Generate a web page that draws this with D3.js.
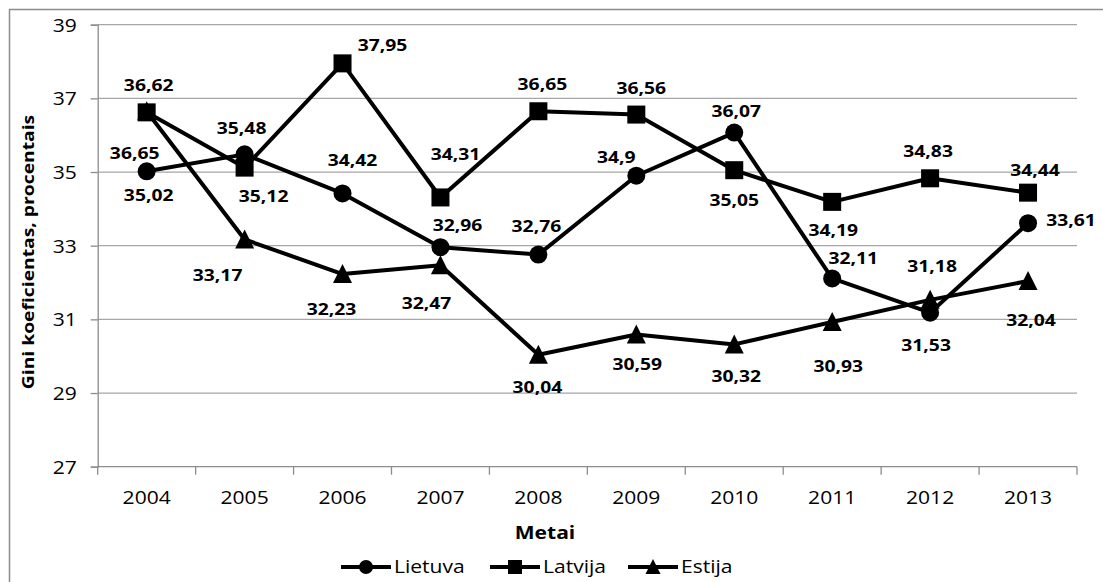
<!DOCTYPE html>
<html><head><meta charset="utf-8">
<script src="https://cdn.jsdelivr.net/npm/d3@7"></script>
<style>
html,body{margin:0;padding:0;background:#fff;}
svg{display:block;}
text{font-family:"Open Sans","Noto Sans",sans-serif;fill:#000;}
</style></head>
<body>
<svg id="chart" width="1103" height="582"></svg>
<script>
// ---- data ----
const years = ["2004","2005","2006","2007","2008","2009","2010","2011","2012","2013"];
const lietuva = [35.02,35.48,34.42,32.96,32.76,34.9,36.07,32.11,31.18,33.61];
const latvija = [36.62,35.12,37.95,34.31,36.65,36.56,35.05,34.19,34.83,34.44];
const estija  = [36.65,33.17,32.23,32.47,30.04,30.59,30.32,30.93,31.53,32.04];
const yTicks = [27,29,31,33,35,37,39];
const seriesNames = ["Lietuva","Latvija","Estija"];

// ---- label placement (layout) ----
const lietuvaLabelDx = [2,-3,10,17,-2,-20,2,21,2,43];
const lietuvaLabelDy = [24,-26,-33,-22,-28,-19,-22,-20,-47,-3];
const latvijaLabelDx = [2,19,40,15,4,5,0,1,-2,7];
const latvijaLabelDy = [-27,28,-18,-43,-27,-27,30,28,-27,-23];
const estijaLabelDx = [-12,-27,-11,-14,-1,1,2,6,-4,3];
const estijaLabelDy = [42,36,35,38,32,30,32,44,45,39];

const SX = 1.17; // horizontal text stretch
const svg = d3.select("#chart");

// outer border
svg.append("rect").attr("x",9.5).attr("y",9.5).attr("width",1100).attr("height",580)
  .attr("fill","none").attr("stroke","#8c8c8c").attr("stroke-width",1.5);

const L = 97.7, R = 1077, T = 24.7, B = 466.7;
const x = d3.scaleBand().domain(years).range([L,R]).paddingInner(0).paddingOuter(0);
const y = d3.scaleLinear().domain([27,39]).range([B,T]);
const cx = d => x(d) + x.bandwidth()/2;

// gridlines
svg.append("g").selectAll("line").data(yTicks.filter(t=>t>27)).join("line")
  .attr("x1",L).attr("x2",R).attr("y1",d=>y(d)).attr("y2",d=>y(d))
  .attr("stroke","#a6a6a6").attr("stroke-width",1.3);

// y axis
const gy = svg.append("g").attr("transform",`translate(${L},0)`)
  .call(d3.axisLeft(y).tickValues(yTicks).tickSize(7).tickPadding(14).tickFormat(d3.format("d")));
gy.select(".domain").attr("stroke","#8c8c8c").attr("stroke-width",1.3);
gy.selectAll(".tick line").attr("stroke","#8c8c8c").attr("stroke-width",1.3);
gy.selectAll(".tick text").each(function(){
  const t=d3.select(this); const xx=+t.attr("x");
  t.attr("x",null).attr("dy",null)
   .attr("transform",`translate(${xx},0) scale(${SX},1)`)
   .attr("dy","0.36em").attr("text-anchor","end")
   .style("font-size","18px").style("font-family","'Open Sans'").attr("fill","#000");
});

// x axis
svg.append("line").attr("x1",L).attr("x2",R).attr("y1",B).attr("y2",B)
  .attr("stroke","#8c8c8c").attr("stroke-width",1.3);
const boundaries = years.map(d=>x(d)).concat([R]);
svg.append("g").selectAll("line").data(boundaries).join("line")
  .attr("x1",d=>d).attr("x2",d=>d).attr("y1",B).attr("y2",B+8)
  .attr("stroke","#8c8c8c").attr("stroke-width",1.3);
svg.append("g").selectAll("text").data(years).join("text")
  .attr("transform",d=>`translate(${cx(d)},498) scale(${SX},1)`)
  .attr("dy","0.36em").attr("text-anchor","middle").style("font-size","18px").text(d=>d);

// axis titles
svg.append("text").attr("transform",`translate(545,533) scale(${SX},1)`)
  .attr("dy","0.36em").attr("text-anchor","middle").style("font-size","18px").style("font-weight","bold").text("Metai");
svg.append("text").attr("transform",`translate(28,252) rotate(-90) scale(${SX},1)`)
  .attr("dy","0.36em").attr("text-anchor","middle").style("font-size","16.5px").style("font-weight","bold")
  .text("Gini koeficientas, procentais");

// marker shapes
function marker(g, type, px, py, s){
  if(type==="circle"){
    g.append("circle").attr("cx",px).attr("cy",py).attr("r",s/2).attr("fill","#000");
  } else if(type==="square"){
    g.append("rect").attr("x",px-s/2).attr("y",py-s/2).attr("width",s).attr("height",s).attr("fill","#000");
  } else {
    const h=s;
    g.append("path").attr("d",`M${px},${py-h/2-1}L${px+s/2+0.5},${py+h/2}L${px-s/2-0.5},${py+h/2}Z`).attr("fill","#000");
  }
}

const series = [
  {name:"Estija", vals:estija, type:"triangle", dx:estijaLabelDx, dy:estijaLabelDy},
  {name:"Lietuva", vals:lietuva, type:"circle", dx:lietuvaLabelDx, dy:lietuvaLabelDy},
  {name:"Latvija", vals:latvija, type:"square", dx:latvijaLabelDx, dy:latvijaLabelDy}
];
const line = d3.line().x((d,i)=>cx(years[i])).y(d=>y(d));
const fmt = v => String(v).replace(".",",");

series.forEach(s=>{
  const g = svg.append("g");
  g.append("path").datum(s.vals).attr("d",line).attr("fill","none")
   .attr("stroke","#000").attr("stroke-width",4).attr("stroke-linejoin","round");
  s.vals.forEach((v,i)=>marker(g,s.type,cx(years[i]),y(v),18));
});
// data labels
series.forEach(s=>{
  svg.append("g").selectAll("text").data(s.vals).join("text")
    .attr("transform",(v,i)=>`translate(${cx(years[i])+s.dx[i]},${y(v)+s.dy[i]}) scale(${SX},1)`)
    .attr("dy","0.36em").attr("text-anchor","middle")
    .style("font-size","16.5px").style("font-weight","bold").text(v=>fmt(v));
});

// legend
const legend = [
  {name:"Lietuva", type:"circle", x0:341},
  {name:"Latvija", type:"square", x0:490},
  {name:"Estija", type:"triangle", x0:628}
];
const ly = 567;
legend.forEach(l=>{
  const g = svg.append("g");
  g.append("line").attr("x1",l.x0).attr("x2",l.x0+50).attr("y1",ly).attr("y2",ly)
    .attr("stroke","#000").attr("stroke-width",4);
  marker(g,l.type,l.x0+25,ly,14);
  g.append("text").attr("transform",`translate(${l.x0+53},${ly}) scale(${SX},1)`)
    .attr("dy","0.36em").attr("text-anchor","start").style("font-size","18px").text(l.name);
});
</script>
</body></html>
